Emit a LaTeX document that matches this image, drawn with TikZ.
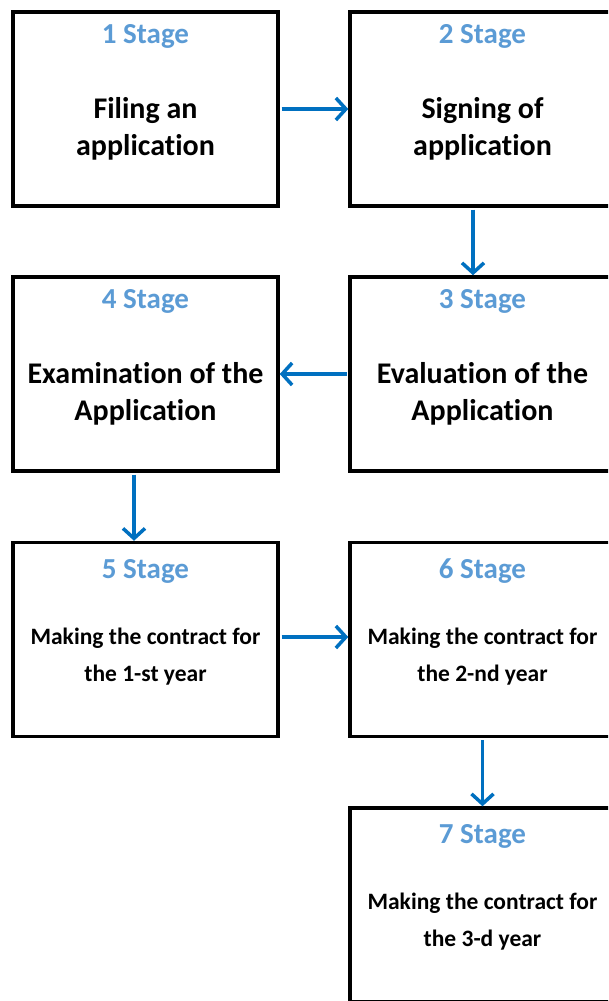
\documentclass[tikz,border=0pt]{standalone}
\usepackage{fontspec}
\setmainfont{Carlito}[Ligatures={NoCommon}]
\usetikzlibrary{arrows.meta,positioning}
\definecolor{titleblue}{RGB}{91,155,213}
\definecolor{arrowblue}{RGB}{0,112,192}
\tikzset{
  stagebox/.style={draw=black,line width=3.5pt,rectangle,minimum width=265pt,minimum height=194pt,inner sep=0pt,fill=white},
  stagetitle/.style={text=titleblue,font=\bfseries\fontsize{29}{35}\selectfont,inner sep=0pt},
  bigtext/.style={text=black,align=center,font=\bfseries\fontsize{30}{37}\selectfont,inner sep=0pt},
  smalltext/.style={text=black,align=center,font=\bfseries\fontsize{23.5}{37}\selectfont,inner sep=0pt},
  flow/.style={draw=arrowblue,line width=3.5pt,-{Straight Barb[length=10pt,width=22pt,line width=3.5pt]}}
}
\begin{document}
\begin{tikzpicture}[x=1pt,y=1pt]
\clip (0,0) rectangle (608,-1001);
\fill[white] (0,0) rectangle (608,-1001);
% boxes
\node[stagebox] (b1) at (145.5,-109) {};
\node[stagebox] (b2) at (482.5,-109) {};
\node[stagebox] (b4) at (145.5,-374) {};
\node[stagebox] (b3) at (482.5,-374) {};
\node[stagebox] (b5) at (145.5,-639.5) {};
\node[stagebox] (b6) at (482.5,-639.5) {};
\node[stagebox] (b7) at (482.5,-905) {};
% titles
\node[stagetitle] (t1) at ([yshift=-26]b1.north) {1 Stage};
\node[stagetitle] (t2) at ([yshift=-26]b2.north) {2 Stage};
\node[stagetitle] (t4) at ([yshift=-26]b4.north) {4 Stage};
\node[stagetitle] (t3) at ([yshift=-26]b3.north) {3 Stage};
\node[stagetitle] (t5) at ([yshift=-30.5]b5.north) {5 Stage};
\node[stagetitle] (t6) at ([yshift=-30.5]b6.north) {6 Stage};
\node[stagetitle] (t7) at ([yshift=-30.5]b7.north) {7 Stage};
% bodies
\node[bigtext] (d1) at ([yshift=-19.5]b1.center) {Filing an\\application};
\node[bigtext] (d2) at ([yshift=-19.5]b2.center) {Signing of\\application};
\node[bigtext] (d4) at ([yshift=-19.5]b4.center) {Examination of the\\Application};
\node[bigtext] (d3) at ([yshift=-19.5]b3.center) {Evaluation of the\\Application};
\node[smalltext] (d5) at ([yshift=-17]b5.center) {Making the contract for\\the 1-st year};
\node[smalltext] (d6) at ([yshift=-17]b6.center) {Making the contract for\\the 2-nd year};
\node[smalltext] (d7) at ([yshift=-17]b7.center) {Making the contract for\\the 3-d year};
% arrows
\draw[flow] ([xshift=1.75pt]b1.east) -- (b2.west);
\draw[flow] ([xshift=-9.5pt,yshift=-1.75pt]b2.south) -- ([xshift=-9.5pt]b3.north);
\draw[flow] ([xshift=-1.75pt]b3.west) -- (b4.east);
\draw[flow] ([xshift=-11.5pt,yshift=-1.75pt]b4.south) -- ([xshift=-11.5pt]b5.north);
\draw[flow] ([xshift=1.75pt,yshift=2.5pt]b5.east) -- ([yshift=2.5pt]b6.west);
\draw[flow] ([yshift=-1.75pt]b6.south) -- (b7.north);
\end{tikzpicture}
\end{document}
